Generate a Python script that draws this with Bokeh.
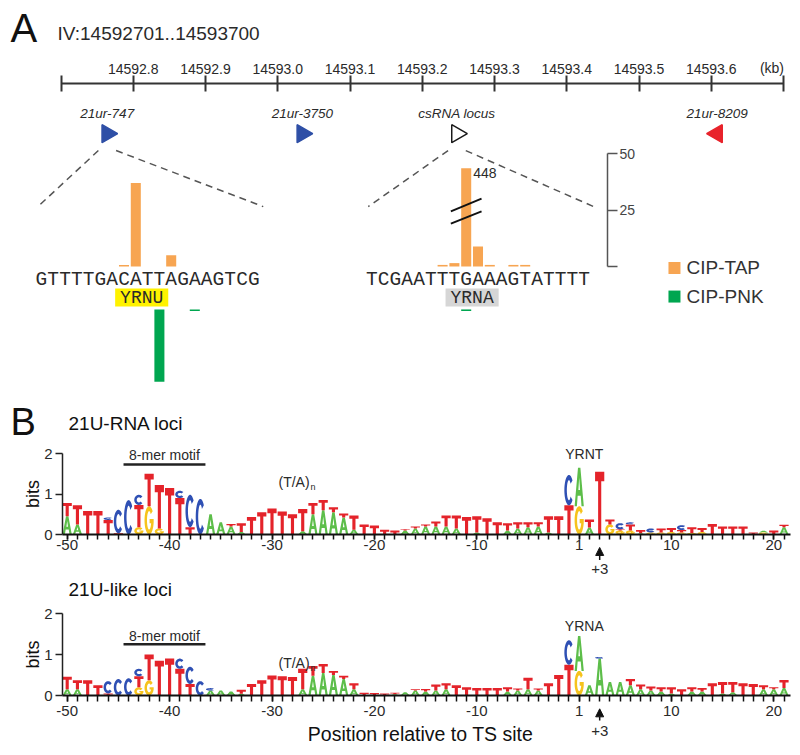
import math
from bokeh.plotting import figure
from bokeh.layouts import column
from bokeh.models import (Range1d, LinearAxis, FixedTicker, Arrow, NormalHead,
                          ColumnDataSource)
from bokeh.embed import file_html
from bokeh.resources import INLINE
from bokeh.core.properties import value

SANS = "Liberation Sans"
MONO = "Liberation Mono"
INK = "#2a2a2a"

# ======================= DATA =======================
# ---- Panel A : genome track
region_label = "IV:14592701..14593700"
kb_ticks = [14592.7, 14592.8, 14592.9, 14593.0, 14593.1, 14593.2,
            14593.3, 14593.4, 14593.5, 14593.6, 14593.7]
kb_tick_labels = ["", "14592.8", "14592.9", "14593.0", "14593.1", "14593.2",
                  "14593.3", "14593.4", "14593.5", "14593.6", ""]
kb_unit = "(kb)"

loci_names = ["21ur-747", "21ur-3750", "csRNA locus", "21ur-8209"]
loci_kb = [14592.764, 14593.034, 14593.248, 14593.608]
loci_strand = [1, 1, 1, -1]
loci_fill = ["#2E4FA6", "#2E4FA6", "#FFFFFF", "#E8232B"]
loci_outline = ["#2E4FA6", "#2E4FA6", "#1A1A1A", "#E8232B"]

# ---- Panel A : zoomed insets (5' end read counts per nucleotide)
seq_747 = "GTTTTGACATTAGAAGTCG"
seq_cs = "TCGAATTTGAAAGTATTTT"
tap_747 = [0, 0, 0, 0, 0, 0, 0, 0.7, 37, 0, 0, 5, 0, 0, 0, 0, 0, 0, 0]
pnk_747 = [0, 0, 0, 0, 0, 0, 0, 0, 0, 0, 32, 0, 0, 0.7, 0, 0, 0, 0, 0]
tap_cs = [0, 0, 0, 0, 0, 0, 0.7, 1.5, 448, 8.8, 0.7, 0, 0.7, 0.7, 0, 0, 0, 0, 0]
pnk_cs = [0, 0, 0, 0, 0, 0, 0, 0, 0.7, 0, 0, 0, 0, 0, 0, 0, 0, 0, 0]
motif_747 = "YRNU"
motif_cs = "YRNA"
motif_start = 7
scale_ticks = [0, 25, 50]
legend_labels = ["CIP-TAP", "CIP-PNK"]
TAP_COLOR = "#F7A552"
PNK_COLOR = "#00A650"

# ---- Panel B : sequence logos (bits per base)
positions = list(range(-50, 0)) + list(range(1, 22))
logo_tick_positions = [-50, -40, -30, -20, -10, 1, 10, 20]

rna_A = [.45, .25, 0, 0, 0, 0, 0, 0, 0, 0,
         0, 0, 0, 0, .5, .3, .2, .06, 0, 0,
         0, 0, 0, .08, .5, .6, .55, .42, .12, 0,
         0, 0, 0, .1, .15, .2, .2, .2, .15, 0,
         .05, 0, 0, .1, .15, .18, .2, .05, 0, 0,
         .95, .17, 0, 0, 0, 0, .03, 0, 0, 0,
         0, 0, 0, 0, 0, 0, 0, 0, .04, 0,
         .18]
rna_C = [0, 0, 0, 0, .06, .58, .85, .25, 0, 0,
         0, .18, .8, .88, 0, 0, 0, 0, 0, 0,
         0, 0, 0, 0, 0, 0, 0, 0, 0, 0,
         0, 0, 0, 0, 0, 0, 0, 0, 0, 0,
         0, 0, 0, 0, 0, 0, 0, 0, 0, .75,
         0, 0, 0, 0, .15, .05, 0, .1, 0, 0,
         .12, 0, 0, 0, 0, 0, 0, 0, 0, 0,
         0]
rna_G = [0, 0, 0, 0, 0, 0, 0, .18, .7, .15,
         0, 0, 0, 0, 0, 0, 0, 0, 0, 0,
         0, 0, 0, 0, 0, 0, 0, 0, 0, 0,
         0, 0, 0, 0, 0, 0, 0, 0, 0, 0,
         0, 0, 0, 0, 0, 0, 0, 0, 0, 0,
         .7, 0, 0, .25, .1, .1, 0, .05, .05, .06,
         .05, .04, .06, 0, 0, 0, 0, 0, .05, 0,
         0]
rna_T = [.33, .47, .58, .58, .36, .03, 0, .55, .8, 1.07,
         1.15, .9, .18, 0, 0, 0, .06, .22, .43, .55,
         .64, .57, .5, .55, .28, .25, .12, .1, .35, .25,
         .22, .12, .1, .03, .05, .05, .12, .27, .32, .43,
         .4, .4, .3, .18, .15, .12, .1, .4, .45, .72,
         0, .2, 1.55, .12, .03, .15, .08, 0, .1, .1,
         .06, .14, .1, .26, .2, .2, .2, .05, 0, .1,
         .06]

like_A = [.15, .15, 0, 0, 0, 0, 0, 0, 0, 0,
          0, 0, 0, 0, .12, .12, .1, .04, 0, 0,
          0, 0, 0, .15, .48, .55, .5, .4, .15, 0,
          0, 0, .03, .08, .12, .1, .12, .15, 0, 0,
          0, 0, 0, .1, .12, .15, .12, 0, 0, 0,
          .85, .25, .9, .33, .33, .25, .15, .12, .1, .05,
          0, .1, .1, 0, .05, .08, 0, 0, .15, .15,
          .18]
like_C = [0, 0, 0, 0, .3, .4, .42, .18, 0, 0,
          0, .25, .42, .35, .06, 0, 0, 0, 0, 0,
          0, 0, 0, 0, 0, 0, 0, 0, 0, 0,
          0, 0, 0, 0, 0, 0, 0, 0, 0, 0,
          0, 0, 0, 0, 0, 0, 0, 0, 0, .6,
          0, 0, .04, 0, 0, 0, 0, 0, 0, 0,
          0, 0, 0, 0, 0, 0, 0, 0, 0, 0,
          0]
like_G = [0, 0, 0, 0, 0, 0, 0, .2, .37, 0,
          0, 0, 0, 0, 0, 0, 0, 0, 0, 0,
          0, 0, 0, 0, 0, 0, 0, 0, 0, 0,
          0, 0, 0, 0, 0, 0, 0, 0, 0, 0,
          0, 0, 0, 0, 0, 0, 0, 0, 0, 0,
          .6, 0, 0, 0, 0, 0, 0, 0, 0, 0,
          0, 0, 0, 0, 0, 0, 0, 0, 0, 0,
          0]
like_T = [.31, .22, .37, .25, .05, 0, 0, .27, .63, .85,
          .9, .65, .28, 0, 0, 0, 0, .1, .28, .37,
          .49, .47, .45, .5, .24, .22, .1, .08, .15, .07,
          .06, .05, .04, 0, .03, .06, .15, .15, .25, .2,
          .18, .18, .18, .1, .05, .28, .05, .3, .5, .75,
          0, 0, 0, 0, 0, .15, .12, .1, .1, .15,
          .15, .1, .08, .3, .28, .25, .3, .28, .1, .05,
          .2]

LETTER_COLORS = {"A": "#5DBE4A", "C": "#2F50B4", "G": "#F6C31C", "T": "#E4232A"}
STACK_ORDER = ["G", "A", "T", "C"]

W = 798


# ======================= HELPERS =======================
def base_fig(**kw):
    p = figure(toolbar_location=None, output_backend="svg", min_border=0, **kw)
    p.outline_line_color = None
    p.background_fill_color = "white"
    p.border_fill_color = "white"
    p.grid.grid_line_color = None
    p.title.visible = False
    return p


def txt(p, x, y, s, size, align="left", color=INK, font=SANS, style="normal", angle=0.0):
    """text whose vertical middle sits at y"""
    p.text(x=[x], y=[y], text=[s], text_align=align, text_baseline="middle",
           text_font=value(font), text_font_size=size, text_font_style=style,
           text_color=color, angle=angle)


def arc(rx, ry, a0, a1, n=36):
    pts = []
    for k in range(n + 1):
        t = math.radians(a0 + (a1 - a0) * k / n)
        pts.append((0.5 + rx * math.cos(t), 0.5 + ry * math.sin(t)))
    return pts


def unit_letter(ch, h):
    """polygons (list of rings) of a letter in a unit box, h = height in bits"""
    if ch == "T":
        b = min(0.5, 0.13 + 0.035 / h)
        s = 0.17
        return [[[(0, 1), (1, 1), (1, 1 - b), (0.5 + s, 1 - b), (0.5 + s, 0),
                  (0.5 - s, 0), (0.5 - s, 1 - b), (0, 1 - b)]]]
    if ch == "A":
        outer = [(0, 0), (0.37, 1), (0.63, 1), (1, 0), (0.75, 0), (0.665, 0.27),
                 (0.335, 0.27), (0.25, 0)]
        if h < 0.12:
            return [[outer]]
        hole = [(0.41, 0.42), (0.59, 0.42), (0.5, 0.74)]
        return [[outer, hole]]
    tx = 0.27
    ty = min(0.42, 0.13 + 0.03 / h)
    rxi, ryi = 0.5 - tx, 0.5 - ty
    if ch == "C":
        return [[arc(0.5, 0.5, 40, 320) + arc(rxi, ryi, 320, 40)]]
    ybar = 0.40
    sphi = max(-1.0, (ybar - 0.5) / ryi)
    phi = 360 + math.degrees(math.asin(sphi))
    xi = 0.5 + rxi * math.cos(math.radians(phi))
    outer = arc(0.5, 0.5, 40, 350)
    xe = outer[-1][0]
    ring = outer + [(xe, 0.55), (0.55, 0.55), (0.55, ybar), (xi, ybar)] + arc(rxi, ryi, phi, 40)
    return [[ring]]


def draw_logo(p, heights):
    xs, ys, cols = [], [], []
    for i in range(len(positions)):
        y0 = 0.0
        for ch in STACK_ORDER:
            h = heights[ch][i]
            if h <= 0:
                continue
            if h >= 0.015:
                x0, w = i - 0.45, 0.9
                polys = unit_letter(ch, h)
                xs.append([[[x0 + u * w for (u, v) in rg] for rg in poly] for poly in polys])
                ys.append([[[y0 + v * h for (u, v) in rg] for rg in poly] for poly in polys])
                cols.append(LETTER_COLORS[ch])
            y0 += h
    src = ColumnDataSource(dict(xs=xs, ys=ys, color=cols))
    p.multi_polygons(xs="xs", ys="ys", fill_color="color", line_color=None, source=src)


# ======================= PANEL A: genome track =======================
F1_H = 145
TRACK_PX = 62.0         # px per track unit (0 = bottom of this strip)
GEN_X0 = 60.5           # px of the first kb tick
PX_PER_KB = 722.5
xr1 = Range1d(kb_ticks[0] - GEN_X0 / PX_PER_KB, kb_ticks[0] + (W - GEN_X0) / PX_PER_KB)
p1 = base_fig(width=W, height=F1_H, x_range=xr1, y_range=Range1d(0, F1_H / TRACK_PX),
              x_axis_location="above", y_axis_location=None)
ax1 = p1.xaxis[0]
ax1.fixed_location = (F1_H - 82.5) / TRACK_PX
ax1.ticker = FixedTicker(ticks=kb_ticks[1:-1], minor_ticks=[kb_ticks[0], kb_ticks[-1]])
ax1.major_label_overrides = {t: l for t, l in zip(kb_ticks[1:-1], kb_tick_labels[1:-1])}
ax1.bounds = (kb_ticks[0], kb_ticks[-1])
ax1.axis_line_width = 2
ax1.axis_line_color = "#333333"
for attr in ("major", "minor"):
    setattr(ax1, attr + "_tick_in", 8)
    setattr(ax1, attr + "_tick_out", 8)
    setattr(ax1, attr + "_tick_line_width", 2)
    setattr(ax1, attr + "_tick_line_color", "#333333")
ax1.major_label_standoff = 1
ax1.major_label_text_font = SANS
ax1.major_label_text_font_size = "14px"
ax1.major_label_text_color = INK

tri_src = ColumnDataSource(dict(
    x=loci_kb, y=[0.19] * len(loci_kb),
    angle=[-math.pi / 2 if s > 0 else math.pi / 2 for s in loci_strand],
    fill=loci_fill, line=loci_outline))
p1.scatter("x", "y", marker="triangle", size=18, angle="angle", fill_color="fill",
           line_color="line", line_width=1.5, source=tri_src)
p1.text(x=loci_kb, y=[0.516] * len(loci_kb), text=loci_names, text_align="center",
        text_baseline="middle", text_font=value(SANS), text_font_style="italic",
        text_font_size="13.5px", text_color=INK)

txt(p1, 14592.630, 1.895, "A", "40px", color="#111111")
txt(p1, 14592.6952, 1.811, region_label, "19px")
txt(p1, 14593.684, 1.258, kb_unit, "14px", align="center")

# ======================= PANEL A: insets + legend =======================
CHAR_PX = 11.8
UNIT_PX = 2.26
F2_TOP, F2_H = 145, 250
SEQ_X0 = 35            # px of first sequence character
ZERO_Y = 266 - F2_TOP  # px (from top of strip) of count 0
xr2 = Range1d(-SEQ_X0 / CHAR_PX, (W - SEQ_X0) / CHAR_PX)
yr2 = Range1d(-(F2_H - ZERO_Y) / UNIT_PX, ZERO_Y / UNIT_PX)
p2 = base_fig(width=W, height=F2_H, x_range=xr2, y_range=yr2,
              x_axis_location=None, y_axis_location=None)

BREAK_CAP = 43.5       # displayed height of an off-scale bar
PNK_BASE = -19.0       # PNK reads drawn downward below the motif box
insets = [(0, seq_747, tap_747, pnk_747, motif_747, "#FFF200", 0),
          (28, seq_cs, tap_cs, pnk_cs, motif_cs, "#D6D6D6", 2)]


def kb_to_char(kb):
    px = GEN_X0 + (kb - kb_ticks[0]) * PX_PER_KB
    return (px - SEQ_X0) / CHAR_PX


for off, seq, tap, pnk, motif, mcol, locus in insets:
    n = len(seq)
    cx = [off + i + 0.5 for i in range(n)]
    xt = kb_to_char(loci_kb[locus])
    p2.segment(x0=[xt - 0.75, xt + 0.75], y0=[51.3, 51.3], x1=[off + 0.2, off + 19.3],
               y1=[26.5, 26.5], line_color="#555555", line_width=1.5, line_dash="7 5")
    tx = [cx[i] for i in range(n) if tap[i] > 0]
    tt = [min(tap[i], BREAK_CAP) for i in range(n) if tap[i] > 0]
    p2.vbar(x=tx, width=0.85, bottom=0, top=tt, fill_color=TAP_COLOR, line_color=None)
    gx = [cx[i] for i in range(n) if pnk[i] > 0]
    gb = [PNK_BASE - pnk[i] for i in range(n) if pnk[i] > 0]
    p2.vbar(x=gx, width=0.85, top=PNK_BASE, bottom=gb, fill_color=PNK_COLOR, line_color=None)
    for i in range(n):
        if tap[i] > BREAK_CAP:
            p2.segment(x0=[cx[i] - 1.3, cx[i] - 1.3], y0=[19.0, 24.4],
                       x1=[cx[i] + 1.3, cx[i] + 1.3], y1=[24.4, 30.0],
                       line_color="#111111", line_width=2)
            txt(p2, cx[i] + 0.6, 41.2, str(int(tap[i])), "14px")
    p2.text(x=cx, y=[-5.97] * n, text=list(seq), text_align="center",
            text_baseline="middle", text_font=value(MONO), text_font_size="19.5px",
            text_color=INK)
    mx = off + motif_start + len(motif) / 2
    p2.rect(x=[mx], y=[-13.7], width=4.5, height=8, fill_color=mcol, line_color=None)
    txt(p2, mx, -13.9, motif, "18px", align="center", font=MONO)

ax2 = LinearAxis(ticker=FixedTicker(ticks=scale_ticks), bounds=(scale_ticks[0], scale_ticks[-1]),
                 major_label_overrides={scale_ticks[0]: ""})
ax2.fixed_location = (607 - SEQ_X0) / CHAR_PX
ax2.axis_line_color = "#555555"
ax2.axis_line_width = 1.5
ax2.major_tick_line_color = "#555555"
ax2.major_tick_line_width = 1.5
ax2.major_tick_out = 10
ax2.major_tick_in = 0
ax2.minor_tick_out = 0
ax2.minor_tick_in = 0
ax2.major_label_standoff = 2
ax2.major_label_text_font = SANS
ax2.major_label_text_font_size = "14px"
ax2.major_label_text_color = "#444444"
p2.add_layout(ax2, "right")

# legend
p2.scatter(x=[54.15, 54.15], y=[-0.66, -13.3], marker="square", size=12,
           fill_color=[TAP_COLOR, PNK_COLOR], line_color=None)
p2.text(x=[55.17, 55.17], y=[-0.66, -13.3], text=legend_labels, text_align="left",
        text_baseline="middle", text_font=value(SANS), text_font_size="19px",
        text_color="#333333")

# ======================= PANEL B: logos =======================
PX_PER_POS = 10.24
POS0_PX = 66.7          # px of position -50
Y_AXIS_X = (62 - POS0_PX) / PX_PER_POS
X_END = (790 - POS0_PX) / PX_PER_POS


def idx(pos):
    return positions.index(pos)


def px_to_pos(px):
    return (px - POS0_PX) / PX_PER_POS


def logo_figure(height, zero_from_top, px_per_bit, heights, title, title_y, motif_txt_y,
                motif_line_y, ta_y, n_y, site, site_y, arrow_tip, arrow_tail, plus_y,
                tick_out, label_standoff, letter=None, letter_y=None, xlabel=None,
                xlabel_y=None):
    xr = Range1d(px_to_pos(0), px_to_pos(W))
    yr = Range1d(-(height - zero_from_top) / px_per_bit, zero_from_top / px_per_bit)
    p = base_fig(width=W, height=height, x_range=xr, y_range=yr)
    draw_logo(p, heights)
    xa = p.xaxis[0]
    xa.fixed_location = 0
    xa.bounds = (Y_AXIS_X, X_END)
    major_idx = [idx(q) for q in logo_tick_positions]
    xa.ticker = FixedTicker(ticks=major_idx, minor_ticks=list(range(len(positions))))
    xa.major_label_overrides = {i: str(positions[i]) for i in major_idx}
    xa.axis_line_width = 2
    xa.axis_line_color = "#111111"
    for attr in ("major", "minor"):
        setattr(xa, attr + "_tick_in", 0)
        setattr(xa, attr + "_tick_out", tick_out)
        setattr(xa, attr + "_tick_line_width", 1.5)
        setattr(xa, attr + "_tick_line_color", "#111111")
    xa.major_label_standoff = label_standoff
    xa.major_label_text_font = SANS
    xa.major_label_text_font_size = "15px"
    xa.major_label_text_color = INK
    ya = p.yaxis[0]
    ya.fixed_location = Y_AXIS_X
    ya.ticker = FixedTicker(ticks=[0, 1, 2])
    ya.bounds = (0, 2)
    ya.axis_line_width = 1.5
    ya.axis_line_color = "#222222"
    ya.major_tick_out = 7
    ya.major_tick_in = 0
    ya.minor_tick_out = 0
    ya.minor_tick_in = 0
    ya.major_tick_line_width = 1.5
    ya.major_tick_line_color = "#222222"
    ya.major_label_standoff = 3
    ya.major_label_text_font = SANS
    ya.major_label_text_font_size = "15px"
    ya.major_label_text_color = INK
    txt(p, px_to_pos(32), 1.0, "bits", "18px", align="center", color="#111111",
        angle=math.pi / 2)

    if letter:
        txt(p, px_to_pos(10), letter_y, letter, "38px", color="#111111")
    txt(p, px_to_pos(68), title_y, title, "19px", color="#111111")
    m0, m1 = idx(-44) - 0.5, idx(-37) + 0.5
    p.segment(x0=[m0], y0=[motif_line_y], x1=[m1], y1=[motif_line_y], line_color="#222222",
              line_width=2.5)
    txt(p, (m0 + m1) / 2, motif_txt_y, "8-mer motif", "14px", align="center")
    txt(p, px_to_pos(278), ta_y, "(T/A)", "14px")
    txt(p, px_to_pos(310), n_y, "n", "9px")
    txt(p, (idx(-1) + idx(3)) / 2, site_y, site, "14px", align="center")
    p.add_layout(Arrow(end=NormalHead(size=8, fill_color="#111111", line_color="#111111"),
                       x_start=idx(3), y_start=arrow_tail, x_end=idx(3), y_end=arrow_tip,
                       line_color="#111111", line_width=1.5))
    txt(p, idx(3), plus_y, "+3", "15px", align="center")
    if xlabel:
        txt(p, px_to_pos(420), xlabel_y, xlabel, "19.5px", align="center", color="#111111")
    return p


# logo 1 occupies page y 395..578 (baseline at 534); logo 2 page y 578..753 (baseline 695)
p4 = logo_figure(183, 534 - 395, 40.5, {"A": rna_A, "C": rna_C, "G": rna_G, "T": rna_T},
                 "21U-RNA loci", 2.74, 1.975, 1.73, 1.296, 1.17, "YRNT", 2.0,
                 -0.32, -0.63, -0.864, 5, 0, letter="B", letter_y=2.778)
p5 = logo_figure(175, 695 - 578, 41.0, {"A": like_A, "C": like_C, "G": like_G, "T": like_T},
                 "21U-like loci", 2.585, 1.44, 1.25, 0.79, 0.68, "YRNA", 1.707,
                 -0.325, -0.61, -0.854, 6, 4, xlabel="Position relative to TS site",
                 xlabel_y=-0.951)

layout = column(p1, p2, p4, p5)
open("out.html", "w").write(file_html(layout, INLINE))
